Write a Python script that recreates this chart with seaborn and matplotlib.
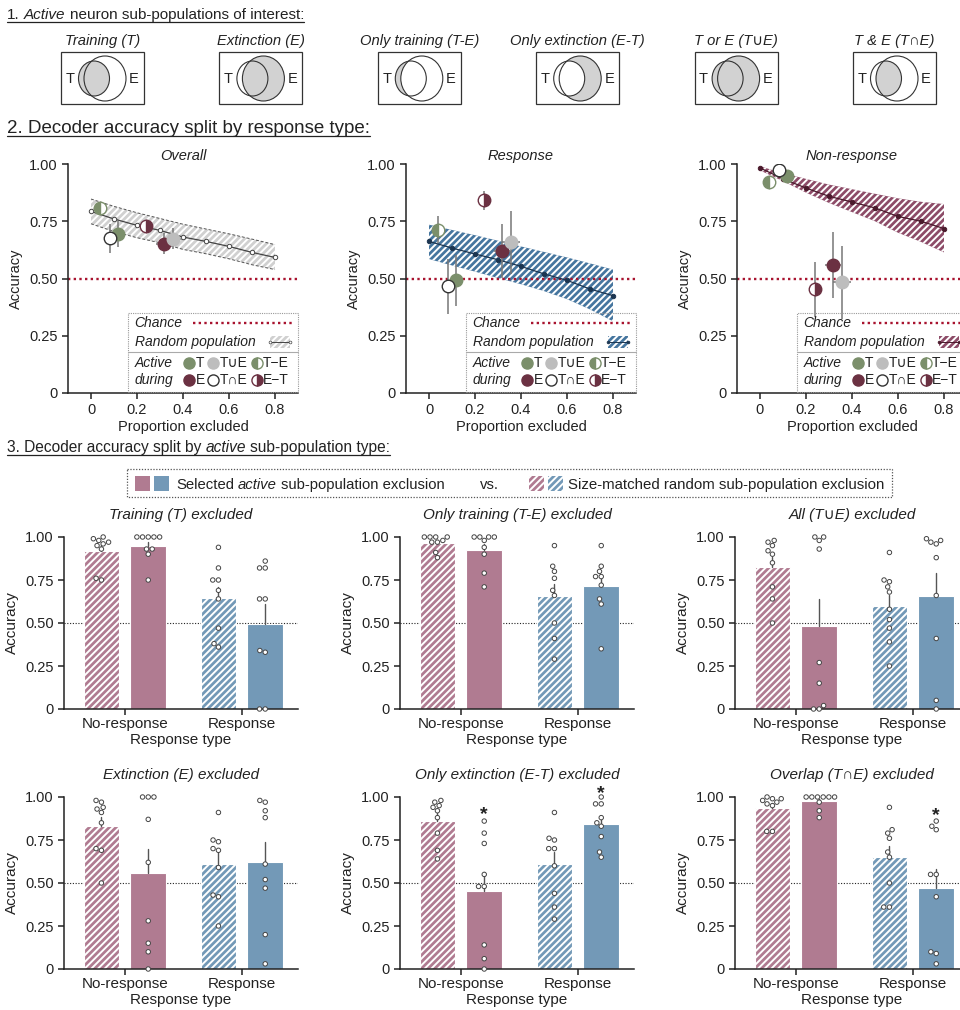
import matplotlib
matplotlib.use("Agg")
import itertools
import matplotlib.pyplot as plt
import numpy as np
import pandas as pd
import seaborn as sns
from matplotlib.patches import Ellipse, Rectangle

sns.set_style("ticks")
plt.rcParams["font.family"] = ["Liberation Sans", "DejaVu Sans"]
plt.rcParams["hatch.linewidth"] = 1.4
plt.rcParams["axes.linewidth"] = 1.1
plt.rcParams["axes.edgecolor"] = "#222222"
plt.rcParams["text.color"] = "#222222"
plt.rcParams["axes.labelcolor"] = "#222222"
plt.rcParams["xtick.color"] = "#222222"
plt.rcParams["ytick.color"] = "#222222"

# ---------------- data ----------------
venn_titles = ["Training (T)", "Extinction (E)", "Only training (T-E)",
               "Only extinction (E-T)", "T or E (T\u222aE)", "T & E (T\u2229E)"]
venn_fill = ["T", "E", "T-E", "E-T", "TuE", "TnE"]

prop_excluded = [0.0, 0.1, 0.2, 0.3, 0.4, 0.5, 0.6, 0.7, 0.8]
overall_rand = [0.793, 0.760, 0.732, 0.710, 0.681, 0.662, 0.640, 0.614, 0.592]
overall_lo = [0.739, 0.705, 0.678, 0.656, 0.627, 0.608, 0.586, 0.560, 0.539]
overall_hi = [0.847, 0.815, 0.787, 0.762, 0.737, 0.716, 0.695, 0.672, 0.648]
resp_rand = [0.662, 0.633, 0.607, 0.582, 0.553, 0.520, 0.492, 0.454, 0.425]
resp_lo = [0.585, 0.557, 0.530, 0.502, 0.475, 0.445, 0.410, 0.365, 0.313]
resp_hi = [0.735, 0.712, 0.689, 0.665, 0.640, 0.616, 0.592, 0.566, 0.539]
nonresp_rand = [0.983, 0.935, 0.895, 0.859, 0.834, 0.808, 0.771, 0.750, 0.718]
nonresp_lo = [0.972, 0.925, 0.875, 0.830, 0.790, 0.750, 0.700, 0.660, 0.614]
nonresp_hi = [0.990, 0.960, 0.935, 0.910, 0.890, 0.870, 0.850, 0.835, 0.825]

subpops = ["T", "E", "T\u2212E", "E\u2212T", "T\u222aE", "T\u2229E"]
sub_x = [0.117, 0.319, 0.038, 0.238, 0.356, 0.082]
sub_xerr = [0.010, 0.035, 0.005, 0.012, 0.040, 0.010]
overall_y = [0.694, 0.652, 0.810, 0.731, 0.674, 0.675]
overall_yerr = [0.055, 0.045, 0.020, 0.020, 0.045, 0.062]
resp_y = [0.492, 0.619, 0.713, 0.841, 0.658, 0.466]
resp_yerr = [0.110, 0.117, 0.060, 0.040, 0.138, 0.120]
nonresp_y = [0.949, 0.559, 0.921, 0.454, 0.483, 0.975]
nonresp_yerr = [0.015, 0.143, 0.025, 0.120, 0.160, 0.015]

response_types = ["No-response", "Response"]
conditions = ["Random", "Selected"]
# per panel: [no-response random, no-response selected, response random, response selected]
training_acc = [[1.00, 0.99, 0.98, 0.97, 0.96, 0.95, 0.93, 0.76, 0.75],
                [1.00, 1.00, 1.00, 1.00, 1.00, 0.93, 0.93, 0.90, 0.75],
                [0.94, 0.82, 0.75, 0.75, 0.69, 0.64, 0.47, 0.38, 0.36],
                [0.86, 0.82, 0.82, 0.64, 0.64, 0.34, 0.33, 0.00, 0.00]]
only_training_acc = [[1.00, 1.00, 1.00, 1.00, 0.98, 0.97, 0.97, 0.91, 0.88],
                     [1.00, 1.00, 1.00, 1.00, 0.98, 0.94, 0.90, 0.79, 0.71],
                     [0.95, 0.83, 0.80, 0.76, 0.69, 0.66, 0.50, 0.41, 0.29],
                     [0.95, 0.83, 0.80, 0.77, 0.77, 0.72, 0.64, 0.61, 0.35]]
all_acc = [[0.98, 0.97, 0.95, 0.92, 0.90, 0.85, 0.71, 0.64, 0.50],
           [1.00, 1.00, 0.98, 0.93, 0.27, 0.15, 0.02, 0.00, 0.00],
           [0.91, 0.75, 0.74, 0.71, 0.68, 0.58, 0.52, 0.47, 0.39, 0.25],
           [0.99, 0.98, 0.97, 0.96, 0.88, 0.66, 0.41, 0.05, 0.00]]
extinction_acc = [[0.98, 0.97, 0.94, 0.93, 0.91, 0.85, 0.70, 0.69, 0.50],
                  [1.00, 1.00, 1.00, 0.87, 0.62, 0.28, 0.15, 0.10, 0.00],
                  [0.91, 0.75, 0.74, 0.70, 0.69, 0.59, 0.43, 0.42, 0.25],
                  [0.98, 0.97, 0.92, 0.88, 0.61, 0.52, 0.47, 0.20, 0.03]]
only_extinction_acc = [[0.98, 0.97, 0.95, 0.94, 0.92, 0.88, 0.79, 0.69, 0.64],
                       [0.86, 0.79, 0.73, 0.55, 0.48, 0.48, 0.14, 0.06, 0.00],
                       [0.91, 0.76, 0.75, 0.70, 0.70, 0.60, 0.44, 0.36, 0.29],
                       [1.00, 0.96, 0.96, 0.88, 0.85, 0.83, 0.77, 0.68, 0.65]]
overlap_acc = [[1.00, 0.99, 0.99, 0.98, 0.97, 0.96, 0.95, 0.80, 0.80],
               [1.00, 1.00, 1.00, 1.00, 1.00, 1.00, 0.97, 0.92, 0.88],
               [0.94, 0.81, 0.79, 0.76, 0.68, 0.65, 0.50, 0.36, 0.36],
               [0.86, 0.83, 0.81, 0.55, 0.55, 0.42, 0.10, 0.09, 0.03]]
bar_titles = ["Training (T) excluded", "Only training (T-E) excluded",
              "All (T\u222aE) excluded", "Extinction (E) excluded",
              "Only extinction (E-T) excluded", "Overlap (T\u2229E) excluded"]
# significance stars: (response type, height)
only_extinction_stars = [("No-response", 0.90), ("Response", 1.02)]
overlap_stars = [("Response", 0.89)]

# ---------------- style ----------------
green = "#7b8f6b"
maroon = "#6b3142"
lgrey = "#bdbdbd"
pink = "#b07b91"
blue = "#7399b7"
chance_col = "#a8132f"
fine_hatch = "/////"

fig = plt.figure(figsize=(9.6, 10.1), dpi=100)
bg = fig.add_axes([0, 0, 1, 1])
bg.set_xlim(0, 960)
bg.set_ylim(1010, 0)
bg.axis("off")
renderer = fig.canvas.get_renderer()


def px_rect(left, top, width, height):
    return [left / 960, 1 - (top + height) / 1010, width / 960, height / 1010]


def text_width(s, size, style="normal"):
    t = bg.text(0, 0, s, fontsize=size, style=style)
    w = t.get_window_extent(renderer).width
    t.remove()
    return w


def rich_text(x, y, parts, size, underline=False):
    x0 = x
    sp = text_width("x x", size) - text_width("xx", size)
    for k, (s, st) in enumerate(parts):
        t = bg.text(x, y, s, fontsize=size, style=st, ha="left", va="baseline")
        x += t.get_window_extent(renderer).width
        if k < len(parts) - 1:
            x += sp
    if underline:
        bg.plot([x0, x], [y + 3, y + 3], color="#222222", lw=0.9)
    return x


# ---------------- section 1: venn boxes ----------------
rich_text(7, 19, [("1.", "normal"), ("Active", "italic"),
                  ("neuron sub-populations of interest:", "normal")], 11, underline=True)
vgrey = "#d2d2d2"
for i, (title, kind) in enumerate(zip(venn_titles, venn_fill)):
    bl = 61 + 158.4 * i
    top = 52
    bg.add_patch(Rectangle((bl, top), 83, 52, fill=False, ec="#333333", lw=0.9))
    tc = (bl + 33, top + 26.5)
    ecn = (bl + 44, top + 26.5)
    if kind in ("T", "T-E", "TuE"):
        bg.add_patch(Ellipse(tc, 31, 35, fc=vgrey, ec="none"))
    if kind in ("E", "E-T", "TuE"):
        bg.add_patch(Ellipse(ecn, 42, 45, fc=vgrey, ec="none"))
    if kind == "T-E":
        bg.add_patch(Ellipse(ecn, 42, 45, fc="white", ec="none"))
    if kind == "E-T":
        bg.add_patch(Ellipse(tc, 31, 35, fc="white", ec="none"))
    if kind == "TnE":
        clip = Ellipse(ecn, 42, 45, fc="none", ec="none")
        bg.add_patch(clip)
        inter = Ellipse(tc, 31, 35, fc=vgrey, ec="none")
        bg.add_patch(inter)
        inter.set_clip_path(clip)
    bg.add_patch(Ellipse(tc, 31, 35, fc="none", ec="#333333", lw=0.8))
    bg.add_patch(Ellipse(ecn, 42, 45, fc="none", ec="#333333", lw=0.8))
    bg.text(bl + 9, top + 27, "T", fontsize=10.5, ha="center", va="center")
    bg.text(bl + 73, top + 27, "E", fontsize=10.5, ha="center", va="center")
    bg.text(bl + 41.5, 41, title, fontsize=10.6, style="italic", ha="center", va="center")

# ---------------- section 2: line panels ----------------
rich_text(7, 133, [("2. Decoder accuracy split by response type:", "normal")], 13.5, underline=True)


def marker_style(s):
    if s == "T":
        return dict(mfc=green, mec=green)
    if s == "E":
        return dict(mfc=maroon, mec=maroon)
    if s == "T\u2212E":
        return dict(mfc=green, mec=green, fillstyle="left", markerfacecoloralt="white")
    if s == "E\u2212T":
        return dict(mfc=maroon, mec=maroon, fillstyle="right", markerfacecoloralt="white")
    if s == "T\u222aE":
        return dict(mfc=lgrey, mec=lgrey)
    return dict(mfc="white", mec="#333333")


line_panels = [
    ("Overall", overall_rand, overall_lo, overall_hi, overall_y, overall_yerr,
     "#d0d0d0", "#444444", "white", 68),
    ("Response", resp_rand, resp_lo, resp_hi, resp_y, resp_yerr,
     "#46769f", "#1c3550", "#1c3550", 406),
    ("Non-response", nonresp_rand, nonresp_lo, nonresp_hi, nonresp_y, nonresp_yerr,
     "#8d4c68", "#4a1a2c", "#4a1a2c", 737),
]

for (title, rand, lo, hi, ys, yerr, band_c, line_c, dot_c, left) in line_panels:
    ax = fig.add_axes(px_rect(left, 164, 230, 229))
    ax.fill_between(prop_excluded, lo, hi, facecolor=band_c, edgecolor="white",
                    hatch=fine_hatch, linewidth=0, zorder=1)
    if title == "Overall":
        ax.plot(prop_excluded, lo, color="#555555", ls=(0, (3, 2)), lw=0.7, zorder=1.5)
        ax.plot(prop_excluded, hi, color="#555555", ls=(0, (3, 2)), lw=0.7, zorder=1.5)
    sns.lineplot(x=prop_excluded, y=rand, ax=ax, color=line_c, lw=0.9, marker="o",
                 markersize=3.2, markerfacecolor=dot_c, markeredgecolor=line_c,
                 markeredgewidth=0.7, zorder=2)
    ax.axhline(0.5, color=chance_col, ls=(0, (1, 1.4)), lw=1.7, zorder=1.8)
    for s, x, xe, y, ye in zip(subpops, sub_x, sub_xerr, ys, yerr):
        ax.errorbar(x, y, yerr=ye, xerr=xe, fmt="none", ecolor="#777777", elinewidth=1.1, zorder=3)
        ax.plot(x, y, "o", ms=9, mew=1, zorder=4, **marker_style(s))
    ax.set_xlim(-0.1, 0.9)
    ax.set_ylim(0, 1)
    ax.set_xticks([0, 0.2, 0.4, 0.6, 0.8], ["0", "0.2", "0.4", "0.6", "0.8"])
    ax.set_yticks([0, 0.25, 0.5, 0.75, 1.0], ["0", "0.25", "0.50", "0.75", "1.00"])
    ax.tick_params(labelsize=10.5, length=4, width=1.1)
    ax.set_xlabel("Proportion excluded", fontsize=10.5, labelpad=2)
    ax.set_ylabel("Accuracy", fontsize=10.5)
    ax.set_title(title, fontsize=10.5, style="italic", pad=3)
    sns.despine(ax=ax)

    # inset legend
    kw = dict(transform=ax.transAxes, clip_on=False)
    ax.add_patch(Rectangle((0.26, 0.005), 0.74, 0.345, fill=False, ec="#999999",
                           ls=(0, (1, 1)), lw=0.8, zorder=5, **kw))
    ax.plot([0.26, 1.0], [0.178, 0.178], color="#aaaaaa", lw=0.8, zorder=5, **kw)
    ax.text(0.29, 0.306, "Chance", style="italic", fontsize=10, va="center", zorder=6, **kw)
    ax.plot([0.545, 0.98], [0.306, 0.306], color=chance_col, ls=(0, (1, 1.4)), lw=1.7, zorder=6, **kw)
    ax.text(0.29, 0.223, "Random population", style="italic", fontsize=10, va="center", zorder=6, **kw)
    ax.add_patch(Rectangle((0.88, 0.198), 0.085, 0.05, fc=band_c, ec="white", hatch=fine_hatch,
                           lw=0, zorder=6, **kw))
    ax.plot([0.88, 0.965], [0.223, 0.223], color=line_c, lw=0.7, marker="o", ms=2,
            mfc=dot_c, mec=line_c, mew=0.5, zorder=7, **kw)
    ax.text(0.29, 0.131, "Active", style="italic", fontsize=10, va="center", zorder=6, **kw)
    ax.text(0.29, 0.057, "during", style="italic", fontsize=10, va="center", zorder=6, **kw)
    for s, lx, ly in zip(subpops, [0.527, 0.527, 0.82, 0.82, 0.63, 0.63],
                         [0.131, 0.057, 0.131, 0.057, 0.131, 0.057]):
        ax.plot(lx, ly, "o", ms=8, mew=1, zorder=7, **kw, **marker_style(s))
        ax.text(lx + 0.028, ly, s, fontsize=10, va="center", zorder=7, **kw)

# ---------------- section 3: bar panels ----------------
rich_text(7, 452, [("3. Decoder accuracy split by", "normal"), ("active", "italic"),
                   ("sub-population type:", "normal")], 11.2, underline=True)
bg.add_patch(Rectangle((127, 469), 765, 28, fill=False, ec="#555555", lw=0.9, ls=(0, (1, 1.3))))
for x0, c in zip([135, 154], [pink, blue]):
    bg.add_patch(Rectangle((x0, 476), 15, 15, fc=c, ec="none"))
rich_text(176, 489, [("Selected", "normal"), ("active", "italic"),
                     ("sub-population exclusion", "normal")], 10.7)
bg.text(480, 489, "vs.", fontsize=10.7, va="baseline")
for x0, c in zip([529, 548], [pink, blue]):
    bg.add_patch(Rectangle((x0, 476), 15, 15, fc=c, ec="white", hatch=fine_hatch, lw=0))
bg.text(568, 489, "Size-matched random sub-population exclusion", fontsize=10.8, va="baseline")

bar_data = [training_acc, only_training_acc, all_acc,
            extinction_acc, only_extinction_acc, overlap_acc]
bar_stars = [[], [], [], [], only_extinction_stars, overlap_stars]
bar_lefts = [64, 400, 735]
bar_tops = [537, 797]

for k, (title, accs, stars) in enumerate(zip(bar_titles, bar_data, bar_stars)):
    ax = fig.add_axes(px_rect(bar_lefts[k % 3], bar_tops[k // 3], 234, 172))
    rows = []
    for (resp, cond), vals in zip(itertools.product(response_types, conditions), accs):
        rows += [(resp, cond, v) for v in vals]
    df = pd.DataFrame(rows, columns=["Response type", "Condition", "Accuracy"])
    ax.axhline(0.5, color="#222222", ls=(0, (1, 1.5)), lw=0.8, zorder=0.5)
    sns.barplot(data=df, x="Response type", y="Accuracy", hue="Condition",
                order=response_types, hue_order=conditions, errorbar="se",
                width=0.8, gap=0.24, legend=False, ax=ax,
                err_kws={"color": "#555555", "linewidth": 1.0})
    # draw SEM only above the bar
    for ln in ax.lines:
        yd = np.asarray(ln.get_ydata(), dtype=float)
        if len(yd) == 2 and ln.get_linestyle() == "-":
            ln.set_ydata([yd.mean(), yd.max()])
    for p in ax.patches:
        cx = p.get_x() + p.get_width() / 2
        grp = int(round(cx))
        p.set_facecolor(pink if grp == 0 else blue)
        p.set_edgecolor("white")
        p.set_linewidth(0.8)
        if cx < grp:
            p.set_hatch(fine_hatch)
    sns.swarmplot(data=df, x="Response type", y="Accuracy", hue="Condition",
                  order=response_types, hue_order=conditions, dodge=True,
                  palette={"Random": "white", "Selected": "white"},
                  edgecolor="#444444", linewidth=0.7, size=3.2, legend=False,
                  ax=ax, zorder=4)
    for c in ax.collections:
        c.set_clip_on(False)
    for resp, h in stars:
        ax.text(response_types.index(resp) + 0.2, h, "*", fontsize=14, fontweight="bold",
                ha="center", va="center", clip_on=False)
    ax.set_xlim(-0.52, 1.48)
    ax.set_ylim(0, 1)
    ax.set_yticks([0, 0.25, 0.5, 0.75, 1.0], ["0", "0.25", "0.50", "0.75", "1.00"])
    ax.tick_params(axis="y", labelsize=10.5, length=4, width=1.1)
    ax.tick_params(axis="x", labelsize=11, length=4, width=1.1, pad=2)
    ax.set_xlabel("Response type", fontsize=11, labelpad=1)
    ax.set_ylabel("Accuracy", fontsize=11)
    ax.set_title(title, fontsize=11, style="italic", pad=13)
    sns.despine(ax=ax)

fig.savefig("out.png", dpi=100)
